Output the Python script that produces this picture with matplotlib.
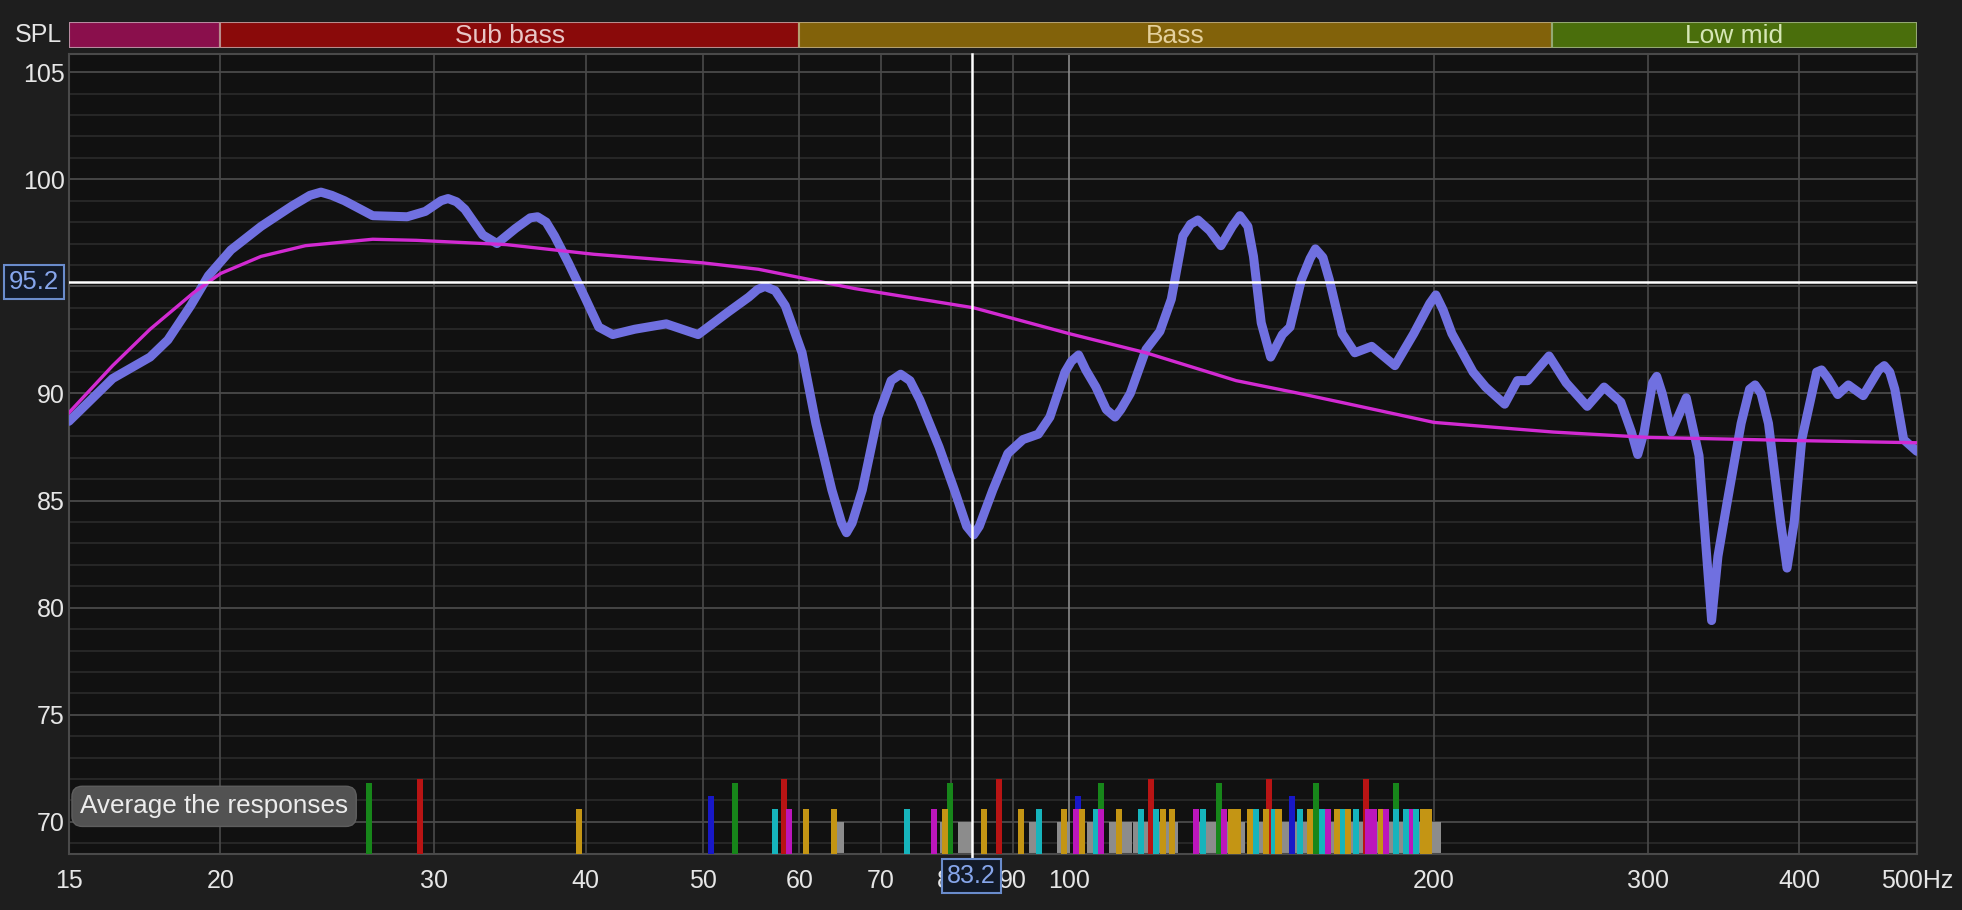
import numpy as np
import matplotlib
matplotlib.use("Agg")
import matplotlib.pyplot as plt
from matplotlib.transforms import blended_transform_factory

plt.rcParams['font.family'] = ['Liberation Sans', 'DejaVu Sans']

# measured response (blue) and target (magenta)
resp_freq = [15.0, 16.3, 17.5, 18.1, 18.9, 19.55, 20.4, 21.6, 22.9, 23.7, 24.2, 24.7,
             25.3, 26.7, 28.5, 29.5, 30.4, 30.8, 31.3, 31.8, 32.9, 33.8, 35.0, 36.0,
             36.5, 37.1, 37.7, 38.7, 40.0, 41.0, 42.1, 43.9, 46.6, 49.5, 52.4, 54.5,
             55.4, 56.2, 57.3, 58.4, 60.3, 61.9, 63.8, 65.0, 65.6, 66.3, 67.6, 69.6,
             71.4, 72.7, 74.0, 75.4, 78.2, 80.5, 82.4, 83.5, 84.4, 86.6, 89.1, 91.7,
             94.4, 96.5, 99.3, 100.5, 101.9, 103.3, 105.3, 107.4, 109.2, 110.4, 112.4,
             115.8, 118.9, 121.5, 124.2, 126.0, 127.8, 130.7, 133.5, 136.4, 138.4,
             140.5, 142.0, 144.1, 146.7, 150.0, 152.2, 155.5, 158.1, 159.7, 162.0,
             164.0, 168.0, 172.1, 177.7, 185.7, 192.5, 198.4, 200.7, 203.5, 206.9,
             215.4, 220.6, 228.7, 234.3, 239.0, 248.8, 257.0, 267.5, 276.2, 285.1,
             290.9, 294.4, 298.0, 302.8, 305.2, 308.4, 313.9, 322.8, 330.7, 334.7,
             338.7, 342.8, 348.3, 358.2, 364.0, 367.8, 372.0, 377.3, 386.1, 390.8,
             396.2, 401.9, 413.4, 417.3, 422.4, 430.3, 439.0, 451.6, 465.1, 470.0,
             474.9, 479.5, 487.6, 500.0]
resp_spl = [88.7, 90.7, 91.7, 92.5, 94.1, 95.5, 96.7, 97.8, 98.75, 99.25, 99.4, 99.25,
            99.0, 98.3, 98.25, 98.5, 99.0, 99.1, 98.95, 98.6, 97.4, 97.0, 97.7, 98.2,
            98.25, 98.0, 97.35, 96.1, 94.4, 93.1, 92.75, 93.0, 93.25, 92.75, 93.8, 94.5,
            94.85, 95.0, 94.8, 94.1, 91.9, 88.6, 85.5, 83.95, 83.5, 83.95, 85.5, 88.9,
            90.6, 90.9, 90.6, 89.7, 87.5, 85.5, 83.8, 83.4, 83.8, 85.5, 87.2, 87.85,
            88.1, 88.9, 91.0, 91.5, 91.8, 91.1, 90.3, 89.25, 88.9, 89.25, 90.0,
            92.05, 92.9, 94.4, 97.35, 97.9, 98.1, 97.6, 96.9, 97.8, 98.3,
            97.8, 96.4, 93.3, 91.7, 92.75, 93.1, 95.3, 96.3, 96.75, 96.35,
            95.3, 92.8, 91.9, 92.2, 91.3, 92.8, 94.2, 94.6, 93.9, 92.8,
            91.0, 90.3, 89.5, 90.6, 90.6, 91.75, 90.5, 89.4, 90.3, 89.6,
            88.2, 87.15, 88.2, 90.5, 90.8, 90.0, 88.2, 89.8, 87.1, 83.2,
            79.4, 82.4, 84.7, 88.6, 90.2, 90.4, 90.0, 88.6, 84.0, 81.85,
            84.0, 87.85, 91.0, 91.1, 90.7, 89.95, 90.4, 89.9, 91.1, 91.3,
            91.0, 90.2, 87.85, 87.3]

target_freq = [15, 16.3, 17.5, 19.0, 20.0, 21.6, 23.5, 26.7, 29.0, 34.4, 40.6, 49.9,
               55.5, 66.6, 83.5, 100, 115.8, 137.4, 155, 167.3, 200, 250.8, 300, 400, 500]
target_spl = [89.1, 91.3, 93.0, 94.7, 95.6, 96.4, 96.9, 97.2, 97.15, 96.95, 96.5, 96.1,
              95.8, 94.9, 94.0, 92.8, 91.9, 90.6, 90.0, 89.6, 88.65, 88.2, 87.95, 87.8, 87.7]

# filter markers along the bottom
marker_freq = [26.5, 29.2, 39.5, 50.7, 53.1, 57.3, 58.3, 58.8, 60.7, 64.1, 73.6, 77.4,
               79.1, 79.9, 85.1, 87.6, 91.4, 94.6,
               99.1, 101.4, 101.8, 102.6, 105.3, 106.3, 106.4, 110.0, 114.8, 117.0,
               118.0, 119.6, 121.6, 127.3, 129.1, 133.0, 134.3, 136.2, 137.9, 141.2,
               142.6, 145.3, 146.3, 147.7, 148.9, 152.7, 155.1, 158.2, 159.8, 161.8,
               163.7, 166.5, 168.3, 169.9, 172.4, 175.7, 176.5, 178.5, 180.8, 182.7,
               186.0, 186.2, 189.8, 192.0, 193.4, 195.8, 198.0]
marker_kind = ['green', 'red', 'gold', 'blue', 'green', 'cyan', 'red', 'magenta', 'gold',
               'gold', 'cyan', 'magenta', 'gold', 'green', 'gold', 'red', 'gold', 'cyan',
               'gold', 'magenta', 'blue', 'gold', 'cyan', 'magenta', 'green', 'gold', 'cyan',
               'red', 'cyan', 'gold', 'gold', 'magenta', 'cyan', 'green', 'magenta', 'gold',
               'gold', 'gold', 'cyan', 'gold', 'red', 'cyan', 'gold', 'blue', 'cyan', 'gold',
               'green', 'cyan', 'magenta', 'gold', 'cyan', 'gold', 'cyan', 'red', 'magenta',
               'magenta', 'gold', 'magenta', 'green', 'cyan', 'cyan', 'magenta', 'cyan',
               'gold', 'gold']
kind_top = {'red': 72.0, 'green': 71.8, 'blue': 71.2, 'gold': 70.6, 'cyan': 70.6, 'magenta': 70.6}
kind_color = {'red': '#b81414', 'green': '#17861a', 'blue': '#1818c8', 'gold': '#c49514',
              'cyan': '#16b4bc', 'magenta': '#bc16bc'}
gray_spans = [(64.2, 64.9), (78.8, 79.6), (81.6, 82.7), (93.3, 94.6), (98.3, 99.7),
              (104.2, 105.6), (108.6, 112.1), (113.6, 115.6), (117.2, 122.4),
              (128.0, 139.0), (141.7, 151.5), (153.7, 201.6)]
gray_top = 70.0

bands = [(15, 20, '', '#8a0f4c', '#b88aa0', '#e6c4d4'),
         (20, 60, 'Sub bass', '#8a0a0a', '#b88c8c', '#e8c6c6'),
         (60, 250, 'Bass', '#82620a', '#b4a070', '#e4d09c'),
         (250, 500, 'Low mid', '#4a6e0c', '#94a874', '#d6e6b6')]

x_ticks = [15, 20, 30, 40, 50, 60, 70, 80, 90, 100, 200, 300, 400, 500]
x_labels = ['15', '20', '30', '40', '50', '60', '70', '80', '90', '100', '200', '300', '400', '500Hz']
cursor_f = 83.2
cursor_db = 95.2

bg = '#1e1e1e'
plot_bg = '#111111'
ybot, ytop = 68.5, 105.85

fig = plt.figure(figsize=(19.62, 9.10), dpi=100, facecolor=bg)
ax = fig.add_axes([0.0351, 0.0615, 0.9419, 0.8792])
ax.set_facecolor(plot_bg)
ax.set_xscale('log')
ax.set_xlim(15, 500)
ax.set_ylim(ybot, ytop)

# grid
for y in range(69, 106):
    major = (y % 5 == 0)
    ax.axhline(y, color='#4a4a4a' if major else '#2b2b2b', lw=1.3 if major else 1.2, zorder=1)
for f in x_ticks[1:-1]:
    ax.axvline(f, color='#8a8a8a' if f == 100 else '#4a4a4a', lw=1.2, zorder=1)

for s in ax.spines.values():
    s.set_color('#4a4a4a')
    s.set_linewidth(1.5)

ax.set_xticks(x_ticks)
ax.set_xticklabels(x_labels)
ax.xaxis.set_minor_locator(matplotlib.ticker.NullLocator())
ax.set_yticks([70, 75, 80, 85, 90, 95, 100, 105])
ax.set_yticklabels(['70', '75', '80', '85', '90', '', '100', '105'])
ax.tick_params(axis='both', length=0, labelsize=18, colors='#e6e6e6')
ax.tick_params(axis='x', pad=11)
ax.tick_params(axis='y', pad=3)

# filter markers
wdec = 0.005
lo = 10 ** (-wdec / 2)
hi = 10 ** (wdec / 2)
for a, b in gray_spans:
    ax.bar(a * lo, gray_top - ybot, width=b * hi - a * lo, bottom=ybot, align='edge',
           color='#8c8c8c', lw=0, zorder=2)
order = sorted(range(len(marker_freq)), key=lambda i: -kind_top[marker_kind[i]])
for i in order:
    f = marker_freq[i]
    k = marker_kind[i]
    ax.bar(f * lo, kind_top[k] - ybot, width=f * (hi - lo), bottom=ybot, align='edge',
           color=kind_color[k], lw=0, zorder=3)

# curves
ax.plot(resp_freq, resp_spl, color='#7070e0', lw=6.5, solid_joinstyle='round',
        solid_capstyle='round', zorder=5)
ax.plot(target_freq, target_spl, color='#d22ad2', lw=2.4, zorder=6)

# cursor
ax.axhline(cursor_db, color='white', lw=1.8, zorder=7)
ax.axvline(cursor_f, ymin=-0.007, ymax=1, color='white', lw=1.8, zorder=7, clip_on=False)

tr_y = blended_transform_factory(ax.transAxes, ax.transData)
ax.text(-0.019, cursor_db, '95.2', transform=tr_y, ha='center', va='center', fontsize=18.5,
        color='#86a6ec', zorder=10,
        bbox=dict(boxstyle='square,pad=0.2', fc='#121a28', ec='#6a8ccc', lw=1.5))
tr_x = blended_transform_factory(ax.transData, ax.transAxes)
ax.text(cursor_f, -0.027, '83.2', transform=tr_x, ha='center', va='center', fontsize=18,
        color='#86a6ec', zorder=10,
        bbox=dict(boxstyle='square,pad=0.2', fc='#121a28', ec='#6a8ccc', lw=1.5))

# button
ax.text(0.0786, 0.0596, 'Average the responses', transform=ax.transAxes, ha='center',
        va='center', fontsize=18.8, color='#ececec', zorder=10,
        bbox=dict(boxstyle='round,pad=0.31,rounding_size=0.4', fc='#525252', ec='#5e5e5e', lw=1))

# band strip
axb = fig.add_axes([0.0351, 0.9473, 0.9419, 0.028])
axb.set_xscale('log')
axb.set_xlim(15, 500)
axb.set_ylim(0, 1)
axb.axis('off')
for a, b, name, fc, ec, tc in bands:
    axb.axvspan(a, b, color=fc, ec=ec, lw=1.5)
    if name:
        axb.text(np.sqrt(a * b), 0.45, name, ha='center', va='center', fontsize=19, color=tc)
fig.text(0.0316, 0.961, 'SPL', ha='right', va='center', fontsize=18, color='#e6e6e6')

fig.savefig('out.png', dpi=100, facecolor=bg)
